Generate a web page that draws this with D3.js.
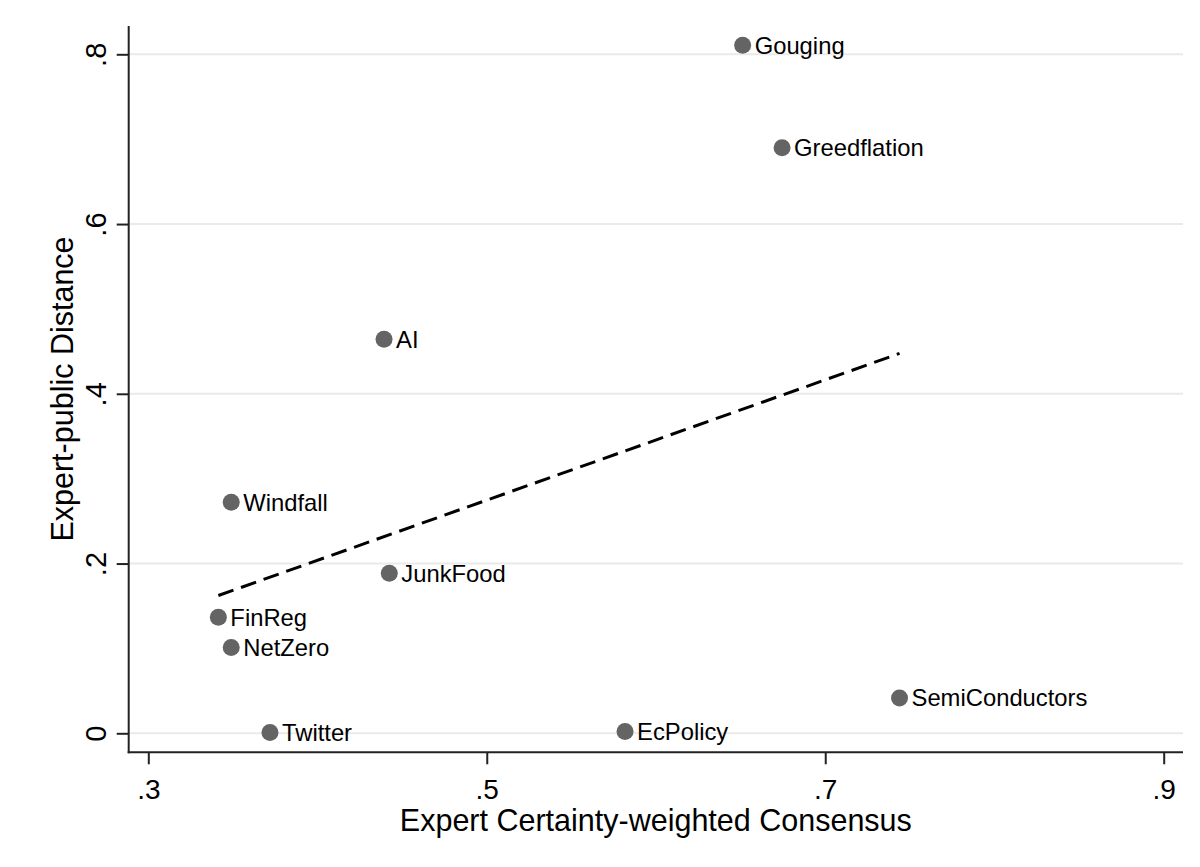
<!DOCTYPE html>
<html>
<head>
<meta charset="utf-8">
<script src="https://cdn.jsdelivr.net/npm/d3@7"></script>
<style>
  html, body { margin: 0; padding: 0; background: #fff; }
  svg { display: block; font-family: Arial, "Liberation Sans", sans-serif; }
</style>
</head>
<body>
<svg id="chart" width="1200" height="867"></svg>
<script>
// ---- data ----
const topics = ["Gouging", "Greedflation", "AI", "Windfall", "JunkFood", "FinReg", "NetZero", "Twitter", "EcPolicy", "SemiConductors"];
const consensus = [0.6512, 0.6745, 0.4393, 0.3490, 0.4424, 0.3414, 0.3490, 0.3719, 0.5817, 0.7439];
const distance = [0.8106, 0.6900, 0.4642, 0.2722, 0.1885, 0.1367, 0.1010, 0.0010, 0.0020, 0.0416];
const xTicks = [0.3, 0.5, 0.7, 0.9];
const xTickLabels = [".3", ".5", ".7", ".9"];
const yTicks = [0, 0.2, 0.4, 0.6, 0.8];
const yTickLabels = ["0", ".2", ".4", ".6", ".8"];
const xTitle = "Expert Certainty-weighted Consensus";
const yTitle = "Expert-public Distance";

// ---- layout ----
const plotLeft = 128.7, plotRight = 1183, plotTop = 26, plotBottom = 752.3;
const x = d3.scaleLinear().domain([0.3, 0.9]).range([148.3, 1163.7]);
const y = d3.scaleLinear().domain([0, 0.8]).range([733.3, 54.3]);

const svg = d3.select("#chart");

// gridlines
svg.append("g").selectAll("line").data(yTicks).join("line")
  .attr("x1", plotLeft).attr("x2", plotRight)
  .attr("y1", d => y(d)).attr("y2", d => y(d))
  .attr("stroke", "#eaeaea").attr("stroke-width", 2);

// fitted line (OLS on the points)
const n = consensus.length;
const mx = d3.mean(consensus), my = d3.mean(distance);
let sxy = 0, sxx = 0;
for (let i = 0; i < n; i++) { sxy += (consensus[i] - mx) * (distance[i] - my); sxx += (consensus[i] - mx) ** 2; }
const slope = sxy / sxx, icpt = my - slope * mx;
const xr = d3.extent(consensus);
svg.append("path")
  .datum(xr.map(v => [v, icpt + slope * v]))
  .attr("d", d3.line().x(d => x(d[0])).y(d => y(d[1])))
  .attr("fill", "none").attr("stroke", "#000").attr("stroke-width", 3)
  .attr("stroke-dasharray", "16,8");

// axes
const xAxis = d3.axisBottom(x).tickValues(xTicks).tickFormat((d, i) => xTickLabels[i]).tickSize(12).tickSizeOuter(0);
const gx = svg.append("g").attr("transform", `translate(0,${plotBottom})`).call(xAxis);
gx.select(".domain").remove();
gx.selectAll(".tick line").attr("stroke", "#222").attr("stroke-width", 2);
gx.selectAll(".tick text").attr("y", 46.7).attr("dy", 0).attr("fill", "#000")
  .attr("font-size", 28).attr("font-family", "Arial, 'Liberation Sans', sans-serif");

const yAxis = d3.axisLeft(y).tickValues(yTicks).tickFormat((d, i) => yTickLabels[i]).tickSize(12).tickSizeOuter(0);
const gy = svg.append("g").attr("transform", `translate(${plotLeft},0)`).call(yAxis);
gy.select(".domain").remove();
gy.selectAll(".tick line").attr("stroke", "#222").attr("stroke-width", 2);
gy.selectAll(".tick text")
  .attr("x", null).attr("dy", null)
  .attr("transform", "translate(-23,0) rotate(-90)")
  .attr("text-anchor", "middle").attr("fill", "#000")
  .attr("font-size", 29).attr("font-family", "Arial, 'Liberation Sans', sans-serif");

// axis lines
svg.append("line").attr("x1", plotLeft).attr("x2", plotLeft).attr("y1", plotTop).attr("y2", plotBottom + 1)
  .attr("stroke", "#222").attr("stroke-width", 2);
svg.append("line").attr("x1", plotLeft - 1).attr("x2", plotRight).attr("y1", plotBottom).attr("y2", plotBottom)
  .attr("stroke", "#222").attr("stroke-width", 2);

// points
const pts = topics.map((t, i) => ({ t, cx: consensus[i], dy: distance[i] }));
svg.append("g").selectAll("circle").data(pts).join("circle")
  .attr("cx", d => x(d.cx)).attr("cy", d => y(d.dy)).attr("r", 8.5)
  .attr("fill", "#646464");

svg.append("g").selectAll("text").data(pts).join("text")
  .attr("x", d => x(d.cx) + 12).attr("y", d => y(d.dy) + 8.5)
  .attr("font-size", 23.8).attr("fill", "#000")
  .text(d => d.t);

// titles
svg.append("text").attr("x", (plotLeft + plotRight) / 2).attr("y", 830.5)
  .attr("text-anchor", "middle").attr("font-size", 30.5).attr("fill", "#000").text(xTitle);
svg.append("text").attr("transform", "translate(72.5,389) rotate(-90)")
  .attr("text-anchor", "middle").attr("font-size", 30.5).attr("fill", "#000").text(yTitle);
</script>
</body>
</html>
